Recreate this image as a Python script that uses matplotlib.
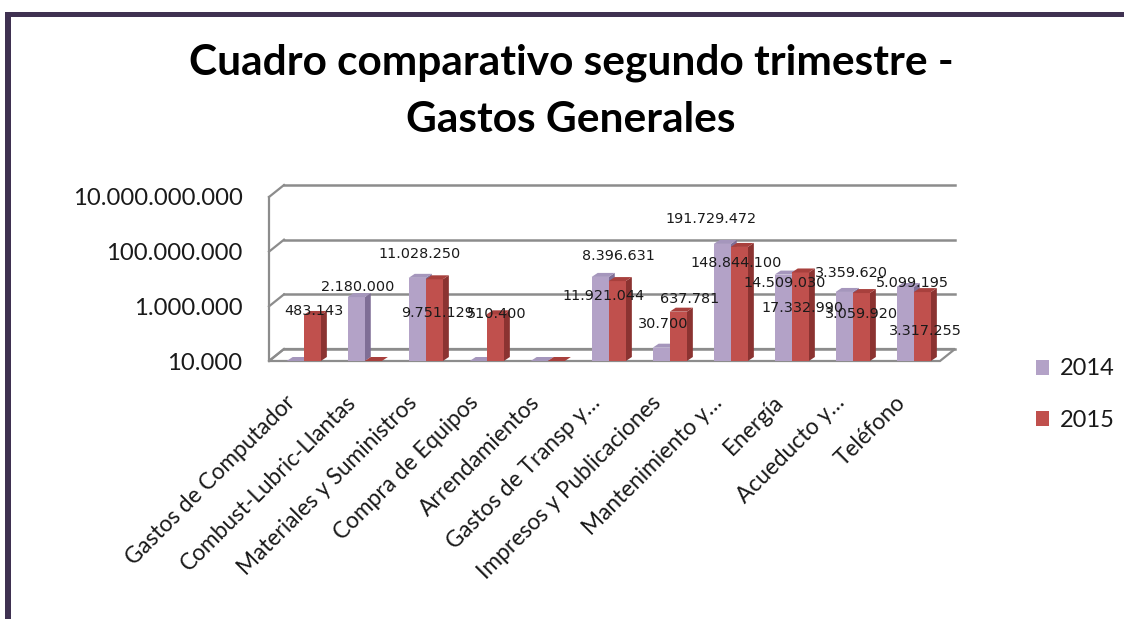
import numpy as np
import matplotlib
matplotlib.use("Agg")
import matplotlib.pyplot as plt
from matplotlib.patches import Polygon, Patch, Rectangle
from matplotlib.lines import Line2D
from matplotlib.transforms import IdentityTransform
from matplotlib.ticker import NullLocator

# ---------------- data ----------------
categories = ["Gastos de Computador", "Combust-Lubric-Llantas", "Materiales y Suministros",
              "Compra de Equipos", "Arrendamientos", "Gastos de Transp y…",
              "Impresos y Publicaciones", "Mantenimiento y…", "Energía",
              "Acueducto y…", "Teléfono"]
values_2014 = [0, 2180000, 11028250, 0, 0, 11921044, 30700, 191729472, 14509030, 3359620, 5099195]
values_2015 = [483143, 0, 9751129, 510400, 0, 8396631, 637781, 148844100, 17332990, 3059920, 3317255]
series_names = ["2014", "2015"]
y_ticks = [1e4, 1e6, 1e8, 1e10]
y_tick_labels = ["10.000", "1.000.000", "100.000.000", "10.000.000.000"]
title = "Cuadro comparativo segundo trimestre -\nGastos Generales"

# ---------------- style ----------------
# label offsets in pixels (dx right, dy down) relative to the bar's top-front centre
label_off_2014 = [None, (1, -10), (2, -24), None, None, (3, 19), (2, -24), (-11, -25), (1, 8), (7, -19), (7, -4)]
label_off_2015 = [(2, -4), None, (3, 34), (1, 0), None, (1, -25), (11, -13), (-3, 16), (2, 36), (0, 21), (3, 39)]

plt.rcParams["font.family"] = ["Lato", "DejaVu Sans"]
W, H = 1124, 619
fig = plt.figure(figsize=(W / 100, H / 100), dpi=100)
fig.patch.set_facecolor("white")

ax = fig.add_axes([269 / W, 1 - 361 / H, (940 - 269) / W, (361 - 197) / H])
ax.set_yscale("log")
for s in ax.spines.values():
    s.set_visible(False)
ax.patch.set_visible(False)

purple = dict(front="#B3A2C7", side="#7F6E96", top="#A596BC")
red = dict(front="#C0504D", side="#8B3331", top="#A8403D")

bw = 0.28
shift = 0.07
n = len(categories)
idx = np.arange(n)
xs_p = idx - bw / 2 + shift
xs_r = idx + bw / 2 + shift
base = 1e4
v14 = np.array(values_2014, dtype=float)
v15 = np.array(values_2015, dtype=float)
h14 = np.maximum(v14, base) - base
h15 = np.maximum(v15, base) - base

ax.bar(xs_p, h14, bottom=base, width=bw, color=purple["front"], zorder=3, linewidth=0)
ax.bar(xs_r, h15, bottom=base, width=bw, color=red["front"], zorder=5, linewidth=0)

ax.set_xlim(-0.5, n - 0.5)
ax.set_ylim(1e4, 1e10)
ax.set_autoscale_on(False)

ax.set_yticks(y_ticks)
ax.set_yticklabels(y_tick_labels)
ax.yaxis.set_minor_locator(NullLocator())
ax.tick_params(axis="y", length=0, pad=19, labelsize=17.2, labelcolor="#1a1a1a")
ax.set_xticks(idx)
ax.set_xticklabels(categories, rotation=45, ha="right", va="top", rotation_mode="default")
ax.tick_params(axis="x", length=0, pad=22, labelsize=16.3, labelcolor="#1a1a1a")

T = ax.transData
ID = IdentityTransform()
gray = "#8C8C8C"
ddx, ddy = 15, 12  # wall depth (display px, up is +)

x0 = ax.transAxes.transform((0, 0))[0]
x1 = ax.transAxes.transform((1, 0))[0]
levels = [T.transform((0, y))[1] for y in y_ticks]
Y0 = levels[0]
Ytop = levels[-1]

# floor
floor = Polygon([(x0, Y0), (x1, Y0), (x1 + ddx, Y0 + ddy), (x0 + ddx, Y0 + ddy)],
                closed=True, facecolor="white", edgecolor=gray, linewidth=1.6,
                transform=ID, clip_on=False, zorder=1)
ax.add_patch(floor)
# left wall edge
ax.add_line(Line2D([x0, x0], [Y0, Ytop], color=gray, lw=1.6, transform=ID, clip_on=False, zorder=1))
for Y in levels:
    ax.add_line(Line2D([x0, x0 + ddx], [Y, Y + ddy], color=gray, lw=1.6, transform=ID, clip_on=False, zorder=1))
    ax.add_line(Line2D([x0 + ddx, x1 + ddx], [Y + ddy, Y + ddy], color=gray, lw=1.8, transform=ID,
                       clip_on=False, zorder=1))

# 3D faces of the bars
bdx, bdy = 6, 4
def faces(xc, val, col, z):
    top = max(val, base)
    xl, yb = T.transform((xc - bw / 2, base))
    xr, yt = T.transform((xc + bw / 2, top))
    side = Polygon([(xr, yb), (xr + bdx, yb + bdy), (xr + bdx, yt + bdy), (xr, yt)], closed=True,
                   facecolor=col["side"], edgecolor="none", transform=ID, clip_on=False, zorder=z)
    topf = Polygon([(xl, yt), (xl + bdx, yt + bdy), (xr + bdx, yt + bdy), (xr, yt)], closed=True,
                   facecolor=col["top"], edgecolor="none", transform=ID, clip_on=False, zorder=z + 0.5)
    ax.add_patch(side)
    ax.add_patch(topf)

for i in range(n):
    faces(xs_p[i], v14[i], purple, 2.5)
    faces(xs_r[i], v15[i], red, 4.5)

def fmt(v):
    return f"{int(v):,}".replace(",", ".")

for xs, vals, offs in ((xs_p, v14, label_off_2014), (xs_r, v15, label_off_2015)):
    for i in range(n):
        if offs[i] is None or vals[i] <= 0:
            continue
        dx, dy = offs[i]
        ax.annotate(fmt(vals[i]), xy=(xs[i], vals[i]), xytext=(dx, -dy), textcoords="offset pixels",
                    ha="center", va="center", fontsize=10.4, family="DejaVu Sans", color="#1a1a1a",
                    zorder=10, annotation_clip=False)

# title
fig.text(571 / W, 1 - 44 / H, title, ha="center", va="top", fontsize=30.5, fontweight="bold",
         color="black", linespacing=1.6)

# legend
handles = [Patch(facecolor=purple["front"]), Patch(facecolor=red["front"])]
fig.legend(handles, series_names, loc="upper left", bbox_to_anchor=(1027 / W, 1 - 349 / H),
           frameon=False, fontsize=17, handlelength=0.55, handleheight=0.6, handletextpad=0.45,
           labelspacing=1.3, labelcolor="#1a1a1a", borderaxespad=0)

# outer frame (top and left dark borders)
frame_col = "#3F3151"
fig.add_artist(Rectangle((5 / W, 1 - 17 / H), 1 - 5 / W, 5 / H, transform=fig.transFigure,
                         facecolor=frame_col, edgecolor="none"))
fig.add_artist(Rectangle((5 / W, 0), 6 / W, 1 - 12 / H, transform=fig.transFigure,
                         facecolor=frame_col, edgecolor="none"))

fig.savefig("out.png", dpi=100)
